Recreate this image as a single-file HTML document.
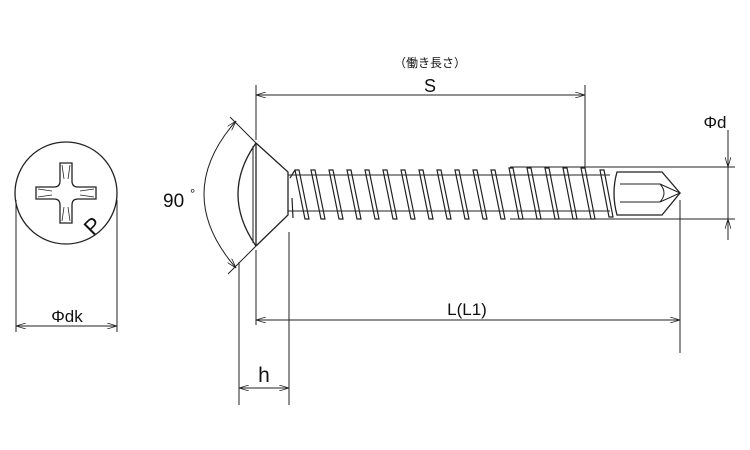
<!DOCTYPE html>
<html><head><meta charset="utf-8"><style>
body{margin:0;background:#fff}
svg{display:block}
text{font-family:"Liberation Sans","Noto Sans CJK JP",sans-serif;fill:#111}
</style></head><body>
<svg width="750" height="450" viewBox="0 0 750 450" xmlns="http://www.w3.org/2000/svg">
<defs>
<marker id="a" viewBox="0 0 10 6" refX="10" refY="3" markerWidth="10" markerHeight="6" orient="auto-start-reverse"><path d="M0,0 L10,3 L0,6" fill="none" stroke="#222" stroke-width="0.8"/></marker>
</defs>
<g stroke="#222" fill="none" stroke-width="1">
<!-- left head view -->
<circle cx="66" cy="193" r="51" stroke-width="1.3"/>
<path d="M60,163 H72 V181 Q72,187 78,187 H96 V199 H78 Q72,199 72,205 V223 H60 V205 Q60,199 54,199 H36 V187 H54 Q60,187 60,181 Z" stroke-width="1.3"/>
<path d="M62,165 l2,14 M70,165 l-2,14 M62,221 l2,-14 M70,221 l-2,-14 M38,189 l14,2 M38,197 l14,-2 M94,189 l-14,2 M94,197 l-14,-2" stroke-width="0.8"/>
<line x1="16" y1="200" x2="16" y2="332"/><line x1="117" y1="200" x2="117" y2="332"/>
<line x1="16" y1="326" x2="117" y2="326" marker-start="url(#a)" marker-end="url(#a)"/>
<!-- head side -->
<path d="M256,143 Q220,194 256,246" stroke-width="1.3"/>
<line x1="256" y1="143" x2="256" y2="246" stroke-width="1.3"/>
<line x1="253" y1="146" x2="253" y2="243"/>
<path d="M256,143 L288,172 L288,215 L256,246" stroke-width="1.3"/>
<!-- shank -->
<line x1="288" y1="175" x2="610" y2="175"/>
<line x1="288" y1="211" x2="610" y2="211"/>
<line x1="510" y1="167" x2="735" y2="167"/>
<line x1="510" y1="219" x2="735" y2="219"/>
<g stroke-width="1.2">
<path d="M292,198 l1,20 M290,178 l5,-8 l4,0 l10,49 l-4,0 l-10,-49"/>
<path d="M311,170 l4,0 l10,49 l-4,0 z M329,170 l4,0 l10,49 l-4,0 z M347,170 l4,0 l10,49 l-4,0 z M365,170 l4,0 l10,49 l-4,0 z M383,170 l4,0 l10,49 l-4,0 z M401,170 l4,0 l10,49 l-4,0 z M419,170 l4,0 l10,49 l-4,0 z M437,170 l4,0 l10,49 l-4,0 z M455,170 l4,0 l10,49 l-4,0 z M473,170 l4,0 l10,49 l-4,0 z M491,170 l4,0 l10,49 l-4,0 z M509,168 l4,0 l10,51 l-4,0 z M527,168 l4,0 l10,51 l-4,0 z M545,168 l4,0 l10,51 l-4,0 z M563,168 l4,0 l10,51 l-4,0 z M581,168 l4,0 l10,51 l-4,0 z M600,170 l4,0 l9,47 l-4,0 z"/>
</g>
<!-- drill tip -->
<path d="M617,172 H662 L680,193 L662,215 H617 Q611,193 617,172 Z" stroke-width="1.3"/>
<path d="M620,184 H660 Q668,193 660,202 H620 M660,184 L680,193 L660,202"/>
<!-- dimension lines -->
<line x1="256" y1="85" x2="256" y2="140"/>
<line x1="256" y1="250" x2="256" y2="325"/>
<line x1="585" y1="85" x2="585" y2="167"/>
<line x1="256" y1="95" x2="585" y2="95" marker-start="url(#a)" marker-end="url(#a)"/>
<line x1="680" y1="200" x2="680" y2="353"/>
<line x1="256" y1="320" x2="680" y2="320" marker-start="url(#a)" marker-end="url(#a)"/>
<line x1="239" y1="262" x2="239" y2="405"/>
<line x1="289" y1="232" x2="289" y2="405"/>
<line x1="239" y1="388" x2="289" y2="388" marker-start="url(#a)" marker-end="url(#a)"/>
<line x1="728" y1="130" x2="728" y2="167" marker-end="url(#a)"/>
<line x1="728" y1="240" x2="728" y2="219" marker-end="url(#a)"/>
<line x1="728" y1="167" x2="728" y2="219"/>
<!-- 90 deg -->
<line x1="256" y1="143" x2="230" y2="117"/>
<line x1="256" y1="246" x2="228" y2="274"/>
<path d="M236,121 Q172,194 236,268" marker-start="url(#a)" marker-end="url(#a)"/>
</g>
<text x="430" y="67" font-size="12" text-anchor="middle">（働き長さ）</text>
<text x="430" y="92" font-size="18" text-anchor="middle">S</text>
<text x="67" y="322" font-size="17" text-anchor="middle">Φdk</text>
<text x="467" y="315" font-size="17" text-anchor="middle">L(L1)</text>
<text x="264" y="382" font-size="21" text-anchor="middle">h</text>
<text x="715" y="128" font-size="17" text-anchor="middle">Φd</text>
<text x="163" y="207" font-size="19">90</text>
<text x="190" y="198" font-size="13">°</text>
<text x="84" y="235" font-size="22" transform="rotate(-45 90 225)">P</text>
</svg>
</body></html>
